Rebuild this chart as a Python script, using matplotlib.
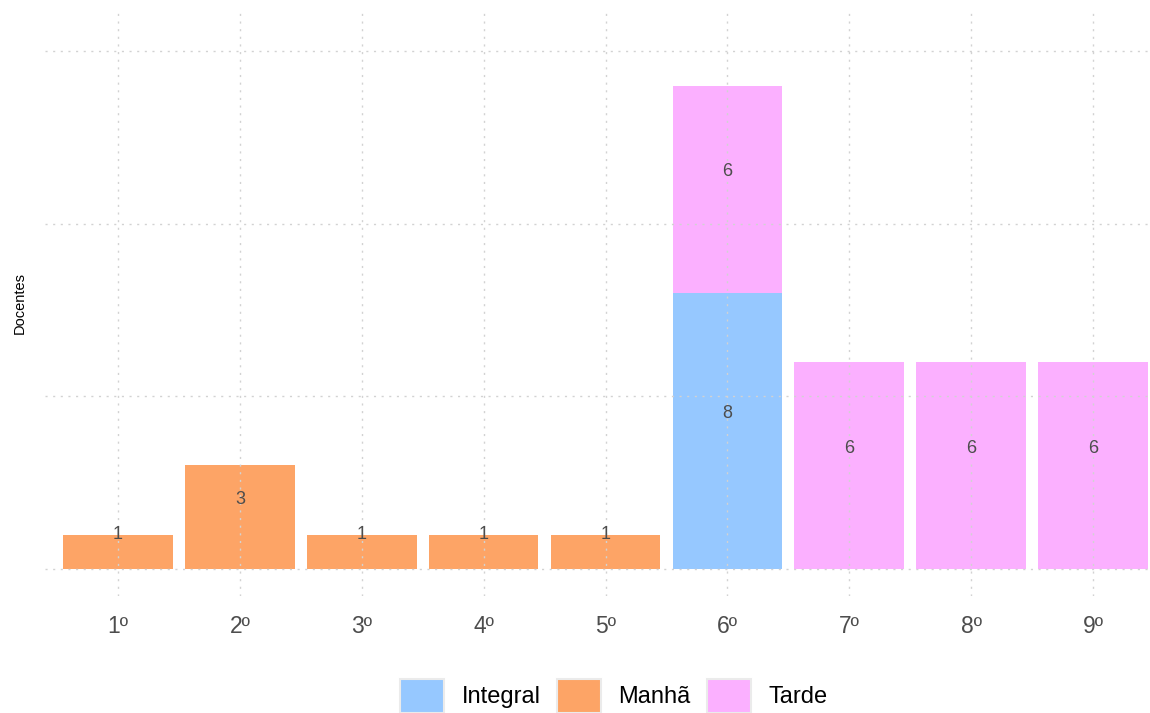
import matplotlib as mpl
import matplotlib.pyplot as plt
from matplotlib.patches import Patch
import numpy as np

mpl.rcParams.update({
    "font.family": ["Liberation Sans", "DejaVu Sans"],
    "figure.dpi": 100,
})

# dados
anos = ["1º", "2º", "3º", "4º", "5º", "6º", "7º", "8º", "9º"]
turnos = ["Integral", "Manhã", "Tarde"]
integral = [0, 0, 0, 0, 0, 8, 0, 0, 0]
manha = [1, 3, 1, 1, 1, 0, 0, 0, 0]
tarde = [0, 0, 0, 0, 0, 6, 6, 6, 6]

cores = {"Integral": "#96C8FF", "Manhã": "#FDA466", "Tarde": "#FBB0FF"}

fig = plt.figure(figsize=(11.5, 7.13))
ax = fig.add_axes([45 / 1150, 117 / 713, 1121 / 1150, 583 / 713])

x = np.arange(1, len(anos) + 1)
base = np.zeros(len(anos))
for nome, vals in zip(turnos, [integral, manha, tarde]):
    vals = np.array(vals, dtype=float)
    ax.bar(x, vals, bottom=base, width=0.9, color=cores[nome], linewidth=0, zorder=1)
    for xi, v, b in zip(x, vals, base):
        if v > 0:
            ax.text(xi, b + v / 2 + 0.5, f"{int(v)}", ha="center", va="center",
                    fontsize=13, color="#4D4D4D", zorder=3)
    base += vals

ax.set_xlim(0.4, 9.6)
ax.set_ylim(-0.78, 16.1)
ax.set_xticks(x)
ax.set_xticklabels(anos, fontsize=16.5, color="#4D4D4D")
ax.set_yticks([0, 5, 10, 15])
ax.set_yticklabels([])
ax.tick_params(axis="x", length=0, pad=14)
ax.tick_params(axis="y", length=0, pad=0)
ax.grid(True, color="#D2D2D2", linestyle=(0, (1.5, 4)), linewidth=1, zorder=2)
ax.set_axisbelow(False)
for s in ax.spines.values():
    s.set_visible(False)
fig.text(20 / 1150, 1 - 303 / 713, "Docentes", rotation=90, fontsize=10.5,
         ha="center", va="center", color="black")

handles = [Patch(facecolor=cores[t], edgecolor="#EBEBEB", linewidth=1.5, label=t) for t in turnos]
fig.legend(handles=handles, loc="center", bbox_to_anchor=(0.534, 0.024), ncol=3,
           frameon=False, fontsize=17, handlelength=1.85, handleheight=1.85,
           handletextpad=0.75, columnspacing=0.7)

fig.savefig("out.png", dpi=100)
